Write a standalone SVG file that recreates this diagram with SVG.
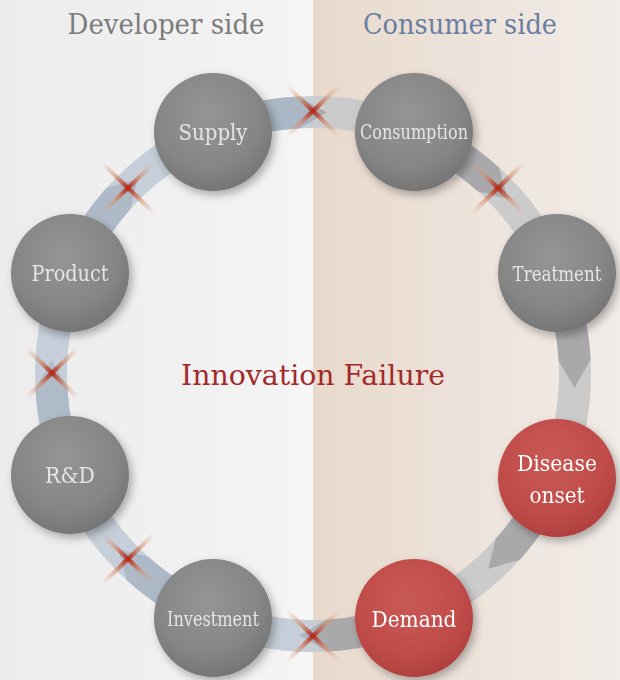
<svg xmlns="http://www.w3.org/2000/svg" width="620" height="680" viewBox="0 0 620 680">
  <defs>
    <linearGradient id="bgL" x1="0" y1="0" x2="1" y2="0">
      <stop offset="0" stop-color="#ececec"/>
      <stop offset="0.9" stop-color="#f3f3f3"/>
      <stop offset="1" stop-color="#f7f7f7"/>
    </linearGradient>
    <linearGradient id="bgR" x1="0" y1="0" x2="1" y2="0">
      <stop offset="0" stop-color="#e8d9cc"/>
      <stop offset="0.4" stop-color="#ece1d8"/>
      <stop offset="1" stop-color="#f1ece8"/>
    </linearGradient>
    <linearGradient id="bandBase" gradientUnits="userSpaceOnUse" x1="0" y1="0" x2="620" y2="0">
      <stop offset="0" stop-color="#c6cfd9"/>
      <stop offset="0.49" stop-color="#c6cfd9"/>
      <stop offset="0.52" stop-color="#cbcbcc"/>
      <stop offset="1" stop-color="#cbcbcc"/>
    </linearGradient>
    <linearGradient id="bandDark" gradientUnits="userSpaceOnUse" x1="0" y1="0" x2="620" y2="0">
      <stop offset="0" stop-color="#b1bccb"/>
      <stop offset="0.49" stop-color="#aab6c4"/>
      <stop offset="0.52" stop-color="#a9a9ac"/>
      <stop offset="1" stop-color="#a9a9ac"/>
    </linearGradient>
    <radialGradient id="greyBall" cx="0.45" cy="0.35" r="0.7">
      <stop offset="0" stop-color="#959595"/>
      <stop offset="0.65" stop-color="#858585"/>
      <stop offset="0.92" stop-color="#767676"/>
      <stop offset="1" stop-color="#6a6a6a"/>
    </radialGradient>
    <radialGradient id="redBall" cx="0.45" cy="0.35" r="0.7">
      <stop offset="0" stop-color="#c95a56"/>
      <stop offset="0.65" stop-color="#c04c49"/>
      <stop offset="0.92" stop-color="#b0413f"/>
      <stop offset="1" stop-color="#a03836"/>
    </radialGradient>
    <linearGradient id="xStroke" x1="0" y1="0" x2="1" y2="1">
      <stop offset="0" stop-color="#e0a080" stop-opacity="0"/>
      <stop offset="0.25" stop-color="#d49070" stop-opacity="0.6"/>
      <stop offset="0.5" stop-color="#b02a1e"/>
      <stop offset="0.75" stop-color="#d49070" stop-opacity="0.6"/>
      <stop offset="1" stop-color="#e0a080" stop-opacity="0"/>
    </linearGradient>
    <linearGradient id="xStroke2" x1="1" y1="0" x2="0" y2="1">
      <stop offset="0" stop-color="#e0a080" stop-opacity="0"/>
      <stop offset="0.25" stop-color="#d49070" stop-opacity="0.6"/>
      <stop offset="0.5" stop-color="#b02a1e"/>
      <stop offset="0.75" stop-color="#d49070" stop-opacity="0.6"/>
      <stop offset="1" stop-color="#e0a080" stop-opacity="0"/>
    </linearGradient>
    <filter id="shadow" x="-30%" y="-30%" width="160%" height="160%">
      <feDropShadow dx="3" dy="4" stdDeviation="4" flood-color="#000" flood-opacity="0.3"/>
    </filter>
    <filter id="soft" x="-20%" y="-20%" width="140%" height="140%">
      <feGaussianBlur stdDeviation="0.7"/>
    </filter>
    <g id="xmark" filter="url(#soft)">
      <line x1="-26" y1="-25" x2="26" y2="25" stroke="url(#xStroke)" stroke-width="4.5"/>
      <line x1="26" y1="-25" x2="-26" y2="25" stroke="url(#xStroke2)" stroke-width="4.5"/>
    </g>
  </defs>
  <style>
    text { font-family: "DejaVu Serif", serif; }
    .lbl { text-anchor: middle; }
    .g { fill: #e4e4e4; }
    .r { fill: #ffffff; }
    .title { font-size: 27px; text-anchor: middle; }
  </style>

  <rect x="0" y="0" width="313" height="680" fill="url(#bgL)"/>
  <rect x="313" y="0" width="307" height="680" fill="url(#bgR)"/>

  <text class="title" x="166" y="34" fill="#7c7c7c" textLength="197" lengthAdjust="spacingAndGlyphs">Developer side</text>
  <text class="title" x="460" y="34" fill="#6a7fa0" textLength="194" lengthAdjust="spacingAndGlyphs">Consumer side</text>

  <g id="connectors">
    <circle cx="313" cy="374" r="262" fill="none" stroke="url(#bandBase)" stroke-width="32"/>
    <path d="M206.6,117.2 A278,278 0 0 1 298.4,96.4 L326.7,112.4 L300.1,128.3 A246,246 0 0 0 218.9,146.7 Z" fill="url(#bandDark)"/>
    <path d="M419.4,117.2 A278,278 0 0 1 499.0,167.4 L507.7,198.7 L477.6,191.2 A246,246 0 0 0 407.1,146.7 Z" fill="url(#bandDark)"/>
    <path d="M569.8,267.6 A278,278 0 0 1 590.6,359.5 L574.6,387.7 L558.7,361.1 A246,246 0 0 0 540.3,279.9 Z" fill="url(#bandDark)"/>
    <path d="M569.8,480.4 A278,278 0 0 1 519.6,560.0 L488.3,568.7 L495.8,538.6 A246,246 0 0 0 540.3,468.1 Z" fill="url(#bandDark)"/>
    <path d="M419.4,630.8 A278,278 0 0 1 327.6,651.6 L299.3,635.6 L325.9,619.7 A246,246 0 0 0 407.1,601.3 Z" fill="url(#bandDark)"/>
    <path d="M206.6,630.8 A278,278 0 0 1 127.0,580.6 L118.3,549.3 L148.4,556.8 A246,246 0 0 0 218.9,601.3 Z" fill="url(#bandDark)"/>
    <path d="M56.2,480.4 A278,278 0 0 1 35.4,388.6 L51.4,360.3 L67.3,386.9 A246,246 0 0 0 85.7,468.1 Z" fill="url(#bandDark)"/>
    <path d="M56.2,267.6 A278,278 0 0 1 106.4,188.0 L137.7,179.3 L130.2,209.4 A246,246 0 0 0 85.7,279.9 Z" fill="url(#bandDark)"/>
    <use href="#xmark" transform="translate(313,111)"/>
    <use href="#xmark" transform="translate(498,188)"/>
    <use href="#xmark" transform="translate(313,636)"/>
    <use href="#xmark" transform="translate(128,559)"/>
    <use href="#xmark" transform="translate(52,373)"/>
    <use href="#xmark" transform="translate(128,188)"/>
  </g>

  <text class="lbl" x="313" y="385" font-size="28" fill="#a22a2a" textLength="264" lengthAdjust="spacingAndGlyphs">Innovation Failure</text>

  <g id="supply" filter="url(#shadow)">
    <circle cx="213" cy="132" r="59" fill="url(#greyBall)"/>
    <text class="lbl g" x="213" y="140" font-size="22" textLength="69" lengthAdjust="spacingAndGlyphs">Supply</text>
  </g>
  <g id="consumption" filter="url(#shadow)">
    <circle cx="414" cy="132" r="59" fill="url(#greyBall)"/>
    <text class="lbl g" x="414" y="139" font-size="20.5" textLength="108" lengthAdjust="spacingAndGlyphs">Consumption</text>
  </g>
  <g id="treatment" filter="url(#shadow)">
    <circle cx="557" cy="273" r="59" fill="url(#greyBall)"/>
    <text class="lbl g" x="557" y="281" font-size="21" textLength="89" lengthAdjust="spacingAndGlyphs">Treatment</text>
  </g>
  <g id="disease-onset" filter="url(#shadow)">
    <circle cx="557" cy="478" r="59" fill="url(#redBall)"/>
    <text class="lbl r" x="557" y="471" font-size="22" textLength="80" lengthAdjust="spacingAndGlyphs">Disease</text>
    <text class="lbl r" x="557" y="503" font-size="22" textLength="55" lengthAdjust="spacingAndGlyphs">onset</text>
  </g>
  <g id="demand" filter="url(#shadow)">
    <circle cx="414" cy="618" r="59" fill="url(#redBall)"/>
    <text class="lbl r" x="414" y="627" font-size="22" textLength="85" lengthAdjust="spacingAndGlyphs">Demand</text>
  </g>
  <g id="investment" filter="url(#shadow)">
    <circle cx="213" cy="618" r="59" fill="url(#greyBall)"/>
    <text class="lbl g" x="213" y="626" font-size="20.5" textLength="92" lengthAdjust="spacingAndGlyphs">Investment</text>
  </g>
  <g id="rnd" filter="url(#shadow)">
    <circle cx="70" cy="475" r="59" fill="url(#greyBall)"/>
    <text class="lbl g" x="70" y="483" font-size="22" textLength="50" lengthAdjust="spacingAndGlyphs">R&amp;D</text>
  </g>
  <g id="product" filter="url(#shadow)">
    <circle cx="70" cy="273" r="59" fill="url(#greyBall)"/>
    <text class="lbl g" x="70" y="281" font-size="22" textLength="77" lengthAdjust="spacingAndGlyphs">Product</text>
  </g>
</svg>
